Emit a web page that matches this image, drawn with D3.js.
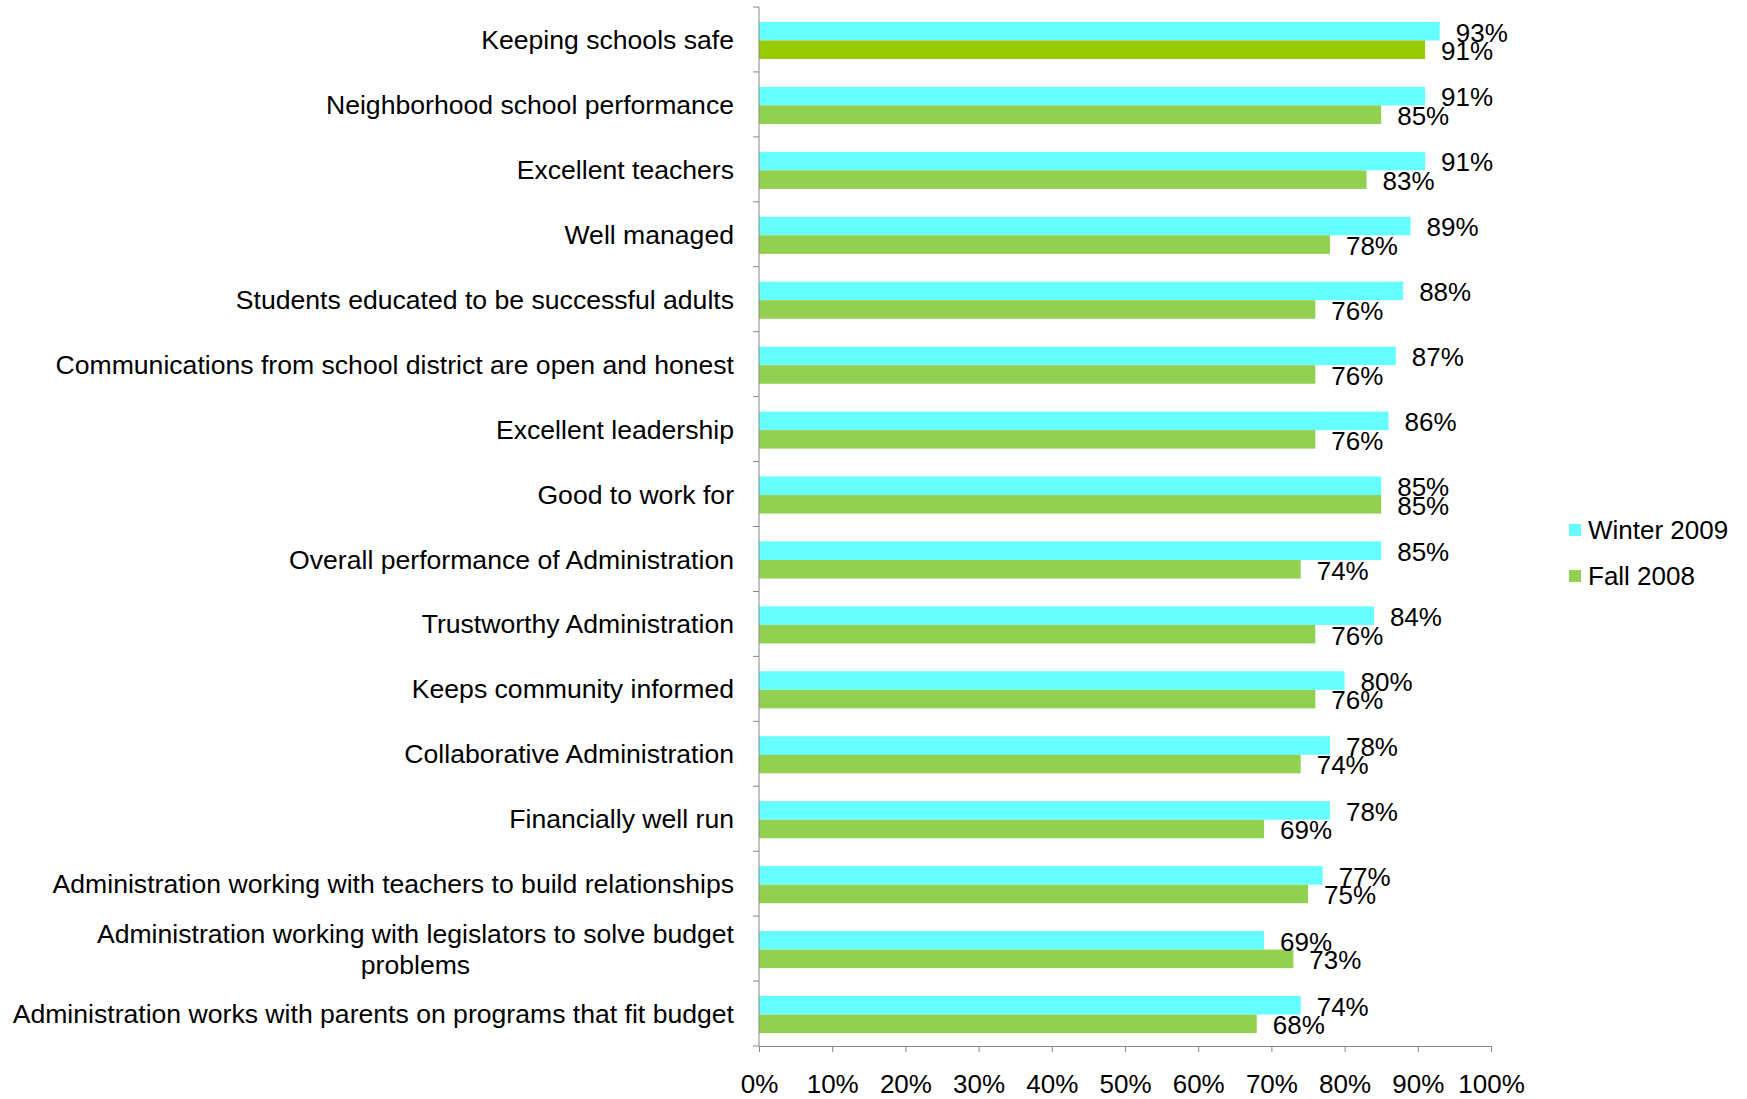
<!DOCTYPE html>
<html>
<head>
<meta charset="utf-8">
<script src="https://cdn.jsdelivr.net/npm/d3@7"></script>
<style>
    body { margin: 0; background: #fff; }
    text { font-family: "Liberation Sans", Arial, sans-serif; fill: #000; }
    .axis path, .axis line { stroke: #868686; }
</style>
</head>
<body>
<div id="chart-area"></div>
<script>

// Data
var categories = [
    "Keeping schools safe",
    "Neighborhood school performance",
    "Excellent teachers",
    "Well managed",
    "Students educated to be successful adults",
    "Communications from school district are open and honest",
    "Excellent leadership",
    "Good to work for",
    "Overall performance of Administration",
    "Trustworthy Administration",
    "Keeps community informed",
    "Collaborative Administration",
    "Financially well run",
    "Administration working with teachers to build relationships",
    "Administration working with legislators to solve budget\nproblems",
    "Administration works with parents on programs that fit budget"
];
var seriesNames = ["Winter 2009", "Fall 2008"];
var winter2009 = [93, 91, 91, 89, 88, 87, 86, 85, 85, 84, 80, 78, 78, 77, 69, 74];
var fall2008 = [91, 85, 83, 78, 76, 76, 76, 85, 74, 76, 76, 74, 69, 75, 73, 68];
var xTicks = [0, 10, 20, 30, 40, 50, 60, 70, 80, 90, 100];

var colors = { "Winter 2009": "#66FFFF", "Fall 2008": "#92D050" };
var highlightColor = "#99CC00";   // first Fall 2008 bar is a different green

// SVG drawing area
var W = 1747, H = 1099;
var svg = d3.select("#chart-area").append("svg")
    .attr("width", W)
    .attr("height", H);

var plot = { left: 759, right: 1491, top: 7, bottom: 1046 };

// Scales
var x = d3.scaleLinear()
    .domain([0, 100])
    .range([plot.left, plot.right]);

var y = d3.scaleBand()
    .domain(categories)
    .range([plot.top, plot.bottom])
    .paddingInner(0)
    .paddingOuter(0);

var ySub = d3.scaleBand()
    .domain(seriesNames)
    .range([0, y.bandwidth()])
    .paddingInner(0)
    .paddingOuter(0.75);

var rows = categories.map(function(c, i) {
    return { cat: c, values: [
        { series: "Winter 2009", value: winter2009[i], idx: i },
        { series: "Fall 2008", value: fall2008[i], idx: i }
    ]};
});

// Bars
var groups = svg.selectAll(".group")
    .data(rows)
    .enter().append("g")
    .attr("class", "group")
    .attr("transform", function(d) { return "translate(0," + (y(d.cat) + 1) + ")"; });

groups.selectAll("rect")
    .data(function(d) { return d.values; })
    .enter().append("rect")
    .attr("x", x(0))
    .attr("y", function(d) { return ySub(d.series); })
    .attr("width", function(d) { return x(d.value) - x(0); })
    .attr("height", ySub.bandwidth())
    .attr("fill", function(d) {
        if (d.series === "Fall 2008" && d.idx === 0) return highlightColor;
        return colors[d.series];
    });

// Value labels
groups.selectAll(".value-label")
    .data(function(d) { return d.values; })
    .enter().append("text")
    .attr("class", "value-label")
    .attr("x", function(d) { return x(d.value) + 16; })
    .attr("y", function(d) { return ySub(d.series) + ySub.bandwidth() / 2 + 1; })
    .attr("dy", "0.36em")
    .style("font-size", "26px")
    .text(function(d) { return d.value + "%"; });

// Axes
var xAxis = d3.axisBottom(x)
    .tickValues(xTicks)
    .tickSize(6)
    .tickSizeOuter(0)
    .tickFormat(function(d) { return d + "%"; });

var xAxisGroup = svg.append("g")
    .attr("class", "x-axis axis")
    .attr("transform", "translate(0," + plot.bottom + ")")
    .call(xAxis);

xAxisGroup.selectAll("text")
    .attr("y", 29)
    .attr("dy", "0.71em")
    .style("font-size", "26px")
    .style("font-family", "Liberation Sans, Arial, sans-serif")
    .attr("fill", "#000");

// Vertical axis line with ticks between categories
var yAxisGroup = svg.append("g").attr("class", "y-axis axis");
yAxisGroup.append("line")
    .attr("x1", plot.left).attr("x2", plot.left)
    .attr("y1", plot.top).attr("y2", plot.bottom)
    .attr("stroke", "#868686");

var boundaries = categories.map(function(c) { return y(c); });
boundaries.push(plot.bottom);
yAxisGroup.selectAll(".ytick")
    .data(boundaries)
    .enter().append("line")
    .attr("class", "ytick")
    .attr("x1", plot.left - 6).attr("x2", plot.left)
    .attr("y1", function(d) { return d; })
    .attr("y2", function(d) { return d; })
    .attr("stroke", "#868686");

// Category labels
var labelRight = 734;
categories.forEach(function(c) {
    var lines = c.split("\n");
    var cy = y(c) + y.bandwidth() / 2;
    var t = svg.append("text")
        .style("font-size", "26.6px");
    var lineH = 31;
    lines.forEach(function(line, i) {
        t.append("tspan")
            .attr("y", cy + (i - (lines.length - 1) / 2) * lineH)
            .attr("dy", "0.36em")
            .text(line);
    });
    if (lines.length === 1) {
        t.attr("text-anchor", "end").selectAll("tspan").attr("x", labelRight);
    } else {
        var maxW = 0;
        t.selectAll("tspan").each(function() {
            maxW = Math.max(maxW, this.getComputedTextLength());
        });
        t.attr("text-anchor", "middle").selectAll("tspan").attr("x", labelRight - maxW / 2);
    }
});

// Legend
var legend = svg.selectAll(".legend")
    .data(seriesNames)
    .enter().append("g")
    .attr("class", "legend")
    .attr("transform", function(d, i) { return "translate(1569," + (530 + i * 46) + ")"; });

legend.append("rect")
    .attr("x", 0).attr("y", -6)
    .attr("width", 12).attr("height", 12)
    .attr("fill", function(d) { return colors[d]; });

legend.append("text")
    .attr("x", 19)
    .attr("dy", "0.36em")
    .style("font-size", "26px")
    .text(function(d) { return d; });

</script>
</body>
</html>
